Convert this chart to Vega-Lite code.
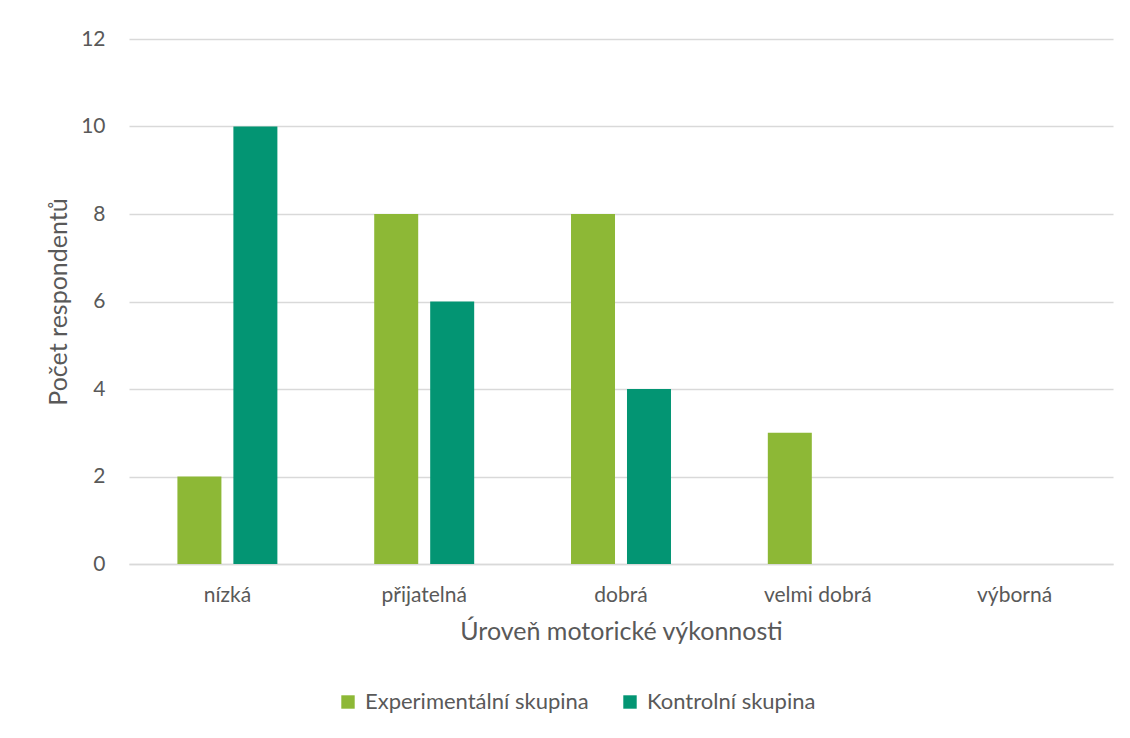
{
  "$schema": "https://vega.github.io/schema/vega-lite/v6.json",
  "width": 984,
  "height": 525,
  "autosize": {"type": "none"},
  "padding": {"left": 129, "top": 39, "right": 17, "bottom": 174},
  "background": "white",
  "config": {
    "view": {"stroke": null},
    "font": "Lato",
    "axis": {"labelColor": "#595959", "titleColor": "#595959", "labelFont": "Lato", "titleFont": "Lato", "titleFontWeight": "normal"},
    "legend": {"labelColor": "#595959", "labelFont": "Lato"}
  },
  "data": {
    "values": [
      {"uroven": "nízká", "skupina": "Experimentální skupina", "pocet": 2},
      {"uroven": "nízká", "skupina": "Kontrolní skupina", "pocet": 10},
      {"uroven": "přijatelná", "skupina": "Experimentální skupina", "pocet": 8},
      {"uroven": "přijatelná", "skupina": "Kontrolní skupina", "pocet": 6},
      {"uroven": "dobrá", "skupina": "Experimentální skupina", "pocet": 8},
      {"uroven": "dobrá", "skupina": "Kontrolní skupina", "pocet": 4},
      {"uroven": "velmi dobrá", "skupina": "Experimentální skupina", "pocet": 3},
      {"uroven": "velmi dobrá", "skupina": "Kontrolní skupina", "pocet": 0},
      {"uroven": "výborná", "skupina": "Experimentální skupina", "pocet": 0},
      {"uroven": "výborná", "skupina": "Kontrolní skupina", "pocet": 0}
    ]
  },
  "mark": {"type": "bar"},
  "encoding": {
    "x": {
      "field": "uroven",
      "type": "nominal",
      "sort": ["nízká", "přijatelná", "dobrá", "velmi dobrá", "výborná"],
      "scale": {"paddingInner": 0.492, "paddingOuter": 0.246},
      "axis": {
        "title": "Úroveň motorické výkonnosti",
        "titleFontSize": 25,
        "titlePadding": 14,
        "labelAngle": 0,
        "labelFontSize": 21,
        "labelPadding": 20,
        "ticks": false,
        "domainColor": "#D9D9D9",
        "domainWidth": 1.5
      }
    },
    "xOffset": {
      "field": "skupina",
      "type": "nominal",
      "scale": {"paddingInner": 0.214, "paddingOuter": 0}
    },
    "y": {
      "field": "pocet",
      "type": "quantitative",
      "scale": {"domain": [0, 12]},
      "axis": {
        "title": "Počet respondentů",
        "titleFontSize": 25,
        "titlePadding": 9,
        "values": [0, 2, 4, 6, 8, 10, 12],
        "labelFontSize": 21,
        "labelPadding": 24,
        "ticks": false,
        "domain": false,
        "gridColor": "#D9D9D9",
        "gridWidth": 1.5
      }
    },
    "color": {
      "field": "skupina",
      "type": "nominal",
      "scale": {"domain": ["Experimentální skupina", "Kontrolní skupina"], "range": ["#8DB836", "#039573"]},
      "legend": {
        "title": null,
        "orient": "none",
        "legendX": 208,
        "legendY": 652,
        "direction": "horizontal",
        "symbolType": "square",
        "symbolSize": 180,
        "symbolStrokeWidth": 0,
        "labelFontSize": 22,
        "labelOffset": 6,
        "labelLimit": 0,
        "columnPadding": 30
      }
    }
  }
}
